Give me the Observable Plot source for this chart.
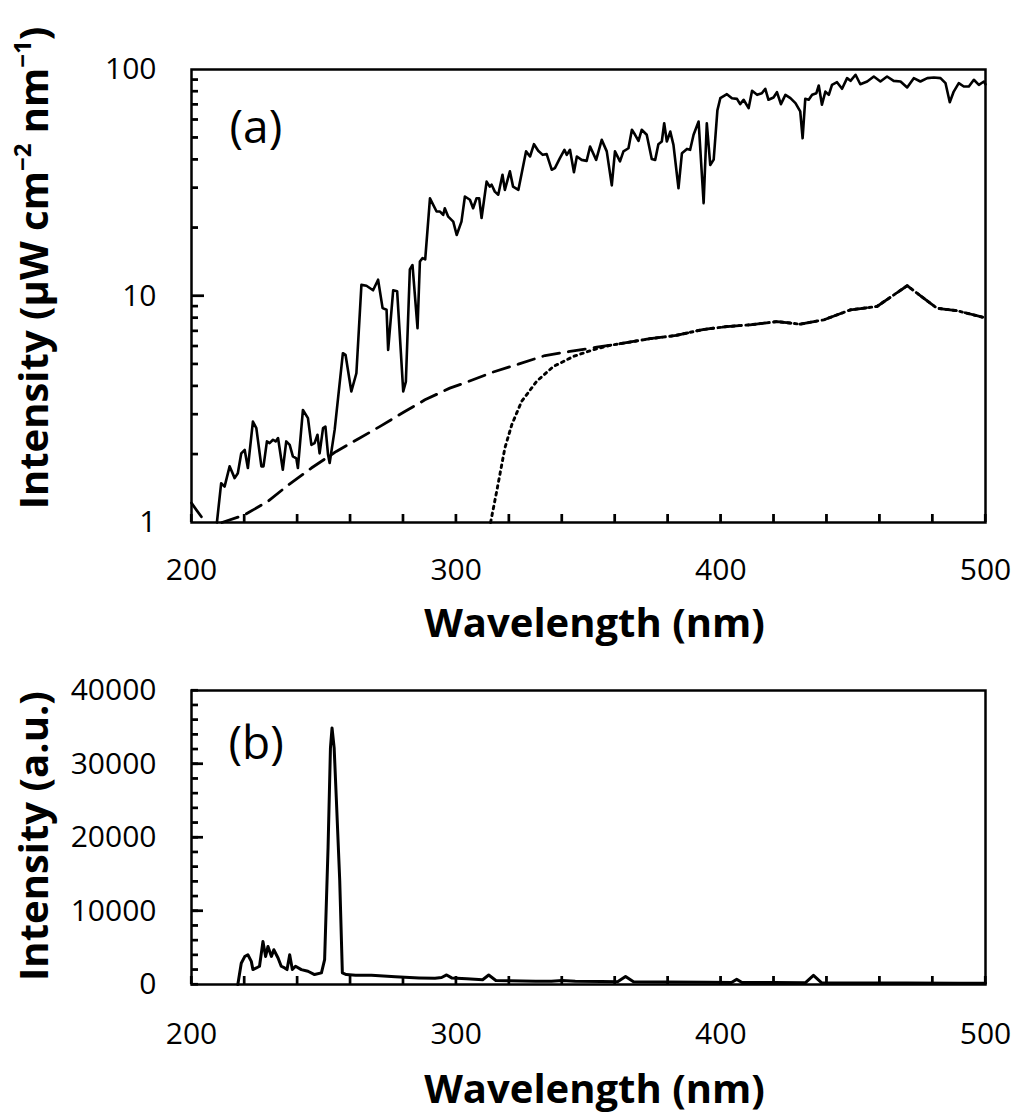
<!DOCTYPE html>
<html><head><meta charset="utf-8">
<script src="https://cdn.jsdelivr.net/npm/d3@7"></script>
<script src="https://cdn.jsdelivr.net/npm/@observablehq/plot@0.6"></script>
<style>
body{margin:0;background:#fff;font-family:"Open Sans",sans-serif;}
#wrap{position:relative;width:1017px;height:1115px;overflow:hidden;}
#top,#bot{position:absolute;left:0;}
#top{top:0}
#bot{top:660px}
#ticks{position:absolute;left:0;top:0;z-index:10;pointer-events:none;}
.ytitle{position:absolute;font-family:"Open Sans",sans-serif;font-weight:bold;font-size:40px;white-space:nowrap;transform:translate(-50%,-50%) rotate(-90deg);line-height:1;color:#000;pointer-events:none;}
.ytitle sup{font-size:0.6em;vertical-align:0.7em;line-height:0;}
</style></head>
<body><div id="wrap"><div id="top"></div><div id="bot"></div>
<div class="ytitle" style="left:33px;top:268px">Intensity (µW cm<sup>−2</sup> nm<sup>−1</sup>)</div>
<div class="ytitle" style="left:33px;top:836px">Intensity (a.u.)</div>
</div>
<script>
// ---- data (wavelength nm, value); NaN marks where the curve leaves the plotted range ----
const solarSpectrum = [[209.6,1.0],[211.2,1.49],[212.5,1.44],[214.4,1.77],[216.3,1.57],[217.5,1.65],[218.8,2.02],[220.1,2.09],[221.3,1.74],[223.2,2.79],[224.5,2.61],[226.4,1.77],[227.2,1.77],[228.5,2.28],[229.5,2.24],[230.8,2.32],[231.8,2.28],[232.7,2.36],[234.5,1.71],[235.8,2.28],[237.1,2.2],[238.3,1.96],[239.6,1.92],[240.2,1.74],[242.1,3.14],[244,2.89],[245.3,2.2],[246.5,2.24],[247.6,2.44],[248.4,2.02],[249.7,2.61],[250.6,2.65],[251.6,1.99],[252.2,1.83],[254.1,2.57],[257.2,5.59],[258.2,5.5],[260.4,3.79],[262.3,4.56],[264.2,11.2],[266.1,11.1],[268.6,10.6],[270.5,11.8],[272.2,8.84],[273.7,8.69],[274.3,5.78],[276.2,10.6],[277.7,10.5],[280,3.79],[281,4.19],[282.5,13.1],[283.5,13.7],[285.4,7.21],[286.3,14.2],[287.3,14.7],[288.3,14.5],[290.1,27],[292.6,23.6],[293.9,23.6],[295.1,22.8],[295.7,24.4],[297,22.4],[298.9,21.3],[300.2,18.6],[302,21.3],[303.3,27.5],[305.2,26.6],[306.4,24.4],[307.7,27],[308.7,27],[309.6,22.1],[311.5,32],[312.7,30.4],[313.4,31],[314.6,28.9],[315.9,28],[317.5,34.3],[318.4,29.4],[320.3,35.5],[321.5,30.4],[323.5,29.4],[326.4,43.5],[327.9,41.3],[329.4,46.8],[331,43.8],[332.7,42],[334.2,42.3],[336.1,36.1],[337.3,36.7],[339.2,40.6],[340.9,44.2],[341.8,42],[343,44.2],[344.5,35.2],[345.6,41.3],[347.4,39.9],[349.3,39.5],[350.6,45.7],[352.9,39.9],[355,48.9],[356.9,43.5],[358.8,30.8],[360,43.5],[361.9,39.3],[363.2,43.5],[365.1,44.9],[366.4,54.2],[367.6,51.5],[368.9,48.4],[370.1,54.2],[372,51.5],[373.9,40.3],[375.2,39.9],[376.4,46.8],[377.7,48.1],[378.6,57.9],[379.6,48.1],[380.9,53.2],[382.1,46.5],[384,29.9],[385.3,42.7],[387.2,44.6],[388.4,44.2],[389.7,51.5],[391.6,58.9],[393.5,25.7],[394.7,57.9],[396,37.9],[397.3,40],[398.7,66],[399.8,74.7],[402.3,77.8],[404.2,74.7],[406.1,74.2],[407.3,70.3],[408.6,73.5],[410.5,67.5],[411.8,80.5],[413.7,77.3],[415.5,78.6],[416.8,82.2],[418,73.5],[419.9,75.2],[421.2,79.4],[422.7,70.3],[424.4,77.3],[426.3,74.7],[428.2,71],[430,65.3],[430.9,49.7],[431.9,74.2],[433.2,73.5],[434.5,77.3],[436.1,78.6],[437,85],[438.2,69.9],[439.5,79.9],[440.8,77.3],[442,85.6],[443.9,87.9],[445.8,82.2],[447.7,91.6],[449,89.1],[450.9,94.8],[452.7,86.1],[455.3,88.5],[457.8,93.1],[460.3,88.5],[462.8,93.1],[465.3,89.1],[467.9,88.5],[470.4,83.3],[472.9,91.6],[475.4,88.5],[478,91.6],[480.5,92.2],[483,91.6],[484.9,87],[486.5,71.7],[488,79.9],[489.9,87],[491.8,84.1],[493.7,84.1],[495.6,90.1],[497.5,85.6],[499.4,88.5],[500,86]];

const dashedSpectrum = [[200,1.22],[202,1.13],[204,1.05],[205.6,1.0],[208,NaN],[211.5,1.0],[220,1.08],[228.9,1.24],[235.8,1.44],[245.3,1.74],[254.7,2.06],[263.6,2.36],[271.1,2.65],[280.6,3.09],[288.2,3.48],[297.6,3.92],[303.9,4.16],[313.8,4.61],[323.5,5.0],[333.6,5.46],[343,5.69],[353.1,5.94],[363.2,6.19],[373.3,6.48],[383.1,6.7],[393.2,7.11],[402.3,7.33],[411.1,7.46],[421.2,7.71],[430,7.51],[438.9,7.85],[449,8.69],[459,8.99],[470.4,11.1],[481.7,8.83],[489.3,8.61],[500,8.0]];

const dottedSpectrum = [[313,1.0],[315.3,1.37],[318.4,2.13],[321,2.7],[324.7,3.42],[330.4,4.2],[336.7,4.88],[344.3,5.41],[351.8,5.79],[358,6.05],[363.2,6.19],[373.3,6.48],[383.1,6.7],[393.2,7.11],[402.3,7.33],[411.1,7.46],[421.2,7.71],[430,7.51],[438.9,7.85],[449,8.69],[459,8.99],[470.4,11.1],[481.7,8.83],[489.3,8.61],[500,8.0]];

const lampSpectrum = [[217.5,0],[218.8,2900],[220.1,3800],[221.3,4050],[222.6,3150],[223.2,2030],[224.5,2250],[225.7,2480],[227,5850],[228,3820],[228.9,5180],[230.2,3820],[231.1,4730],[232.7,3600],[233.9,2480],[235.2,2250],[236.1,2030],[237.1,4050],[238.1,2030],[239.3,2480],[241.5,2030],[244,1800],[246.5,1350],[249.1,1580],[250.3,3380],[251.6,18680],[252.5,32200],[253.1,34900],[253.9,32200],[254.7,25440],[256,14190],[257,1580],[258.5,1350],[262,1260],[268,1250],[277,1040],[286,900],[292,850],[294.5,950],[296.4,1300],[298.3,900],[304,770],[310,650],[312.3,1300],[315,550],[320,500],[330,450],[336,450],[340,550],[345,450],[355,400],[361,380],[364,1100],[367,380],[380,330],[395,300],[404,280],[406,700],[408,280],[420,260],[432,250],[435,1250],[438,250],[450,220],[470,200],[490,180],[500,170]];

const xMinorTicks = d3.range(200, 501, 20);
const xLabelTicks = [200, 300, 400, 500];
const yLogLabels = [1, 10, 100];
const yLogMinor = [2,3,4,5,6,7,8,9,20,30,40,50,60,70,80,90];
const yLogMajor = [10];
const yLinLabels = [0, 10000, 20000, 30000, 40000];
const yLinMinor = d3.range(0, 40001, 2000);
const yLinMajor = [10000, 20000, 30000];

const toObj = arr => arr.map(([wl, v]) => ({wl, v}));
const baseStyle = {fontFamily: "Open Sans", fontSize: "30px", color: "#000", background: "#fff", overflow: "visible"};

const W = 1017, ML = 191, MR = 32;
const FW = W - ML - MR;
const topH = 660, topMT = 69, topMB = 138, topFH = topH - topMT - topMB;
const botH = 455, botMT = 30, botMB = 131, botFH = botH - botMT - botMB;
const botOffset = 660;

const topChart = Plot.plot({
  width: W, height: topH,
  marginLeft: ML, marginRight: MR, marginTop: topMT, marginBottom: topMB,
  style: baseStyle,
  x: {domain: [200, 500]},
  y: {type: "log", domain: [1, 100]},
  marks: [
    Plot.ruleX(xMinorTicks, {x: d => d, insetTop: topFH - 8, stroke: "#000", strokeWidth: 2.2}),
    Plot.ruleY(yLogMinor, {y: d => d, insetRight: FW - 7, stroke: "#000", strokeWidth: 2.2}),
    Plot.ruleY(yLogMajor, {y: d => d, insetRight: FW - 13, stroke: "#000", strokeWidth: 2.2}),
    Plot.line(toObj(dashedSpectrum), {x: "wl", y: "v", stroke: "#000", strokeWidth: 2.8, strokeDasharray: "17,9"}),
    Plot.line(toObj(dottedSpectrum), {x: "wl", y: "v", stroke: "#000", strokeWidth: 2.9, strokeDasharray: "2.6,4.4"}),
    Plot.line(toObj(solarSpectrum), {x: "wl", y: "v", stroke: "#000", strokeWidth: 2.6}),
    Plot.axisX({ticks: xLabelTicks, tickSize: 0, tickPadding: 36, tickFormat: d => String(d), label: null}),
    Plot.axisY({ticks: yLogLabels, tickSize: 0, tickPadding: 35, tickFormat: d => String(d), label: null}),
    Plot.frame({stroke: "#000", strokeWidth: 2.5}),
    Plot.text(["Wavelength (nm)"], {text: d => d, frameAnchor: "bottom", lineAnchor: "middle", dy: 102, dx: 6, fontWeight: "bold", fontSize: 40}),
    Plot.text(["(a)"], {text: d => d, frameAnchor: "top-left", lineAnchor: "middle", textAnchor: "start", dx: 38, dy: 59, fontSize: 46})
  ]
});
document.getElementById("top").append(topChart);

const botChart = Plot.plot({
  width: W, height: botH,
  marginLeft: ML, marginRight: MR, marginTop: botMT, marginBottom: botMB,
  style: baseStyle,
  x: {domain: [200, 500]},
  y: {domain: [0, 40000]},
  marks: [
    Plot.ruleX(xMinorTicks, {x: d => d, insetTop: botFH - 8, stroke: "#000", strokeWidth: 2.2}),
    Plot.ruleY(yLinMinor, {y: d => d, insetRight: FW - 7, stroke: "#000", strokeWidth: 2.2}),
    Plot.ruleY(yLinMajor, {y: d => d, insetRight: FW - 12, stroke: "#000", strokeWidth: 2.2}),
    Plot.line(toObj(lampSpectrum), {x: "wl", y: "v", stroke: "#000", strokeWidth: 3}),
    Plot.axisX({ticks: xLabelTicks, tickSize: 0, tickPadding: 38, tickFormat: d => String(d), label: null}),
    Plot.axisY({ticks: yLinLabels, tickSize: 0, tickPadding: 35, tickFormat: d => String(d), label: null}),
    Plot.frame({stroke: "#000", strokeWidth: 2.5}),
    Plot.text(["Wavelength (nm)"], {text: d => d, frameAnchor: "bottom", lineAnchor: "middle", dy: 106, dx: 6, fontWeight: "bold", fontSize: 40}),
    Plot.text(["(b)"], {text: d => d, frameAnchor: "top-left", lineAnchor: "middle", textAnchor: "start", dx: 37, dy: 54, fontSize: 46})
  ]
});
document.getElementById("bot").append(botChart);

// overlay of inward ticks, positioned with the charts' own Plot scales
try {
  const ov = d3.select("#wrap").append("svg").attr("id", "ticks").attr("width", W).attr("height", 1115);
  const g = ov.append("g").attr("stroke", "#000").attr("stroke-width", 2.2);
  const drawTicks = (chart, y0, H, MB, yMinor, yMajor, majLen) => {
    const sx = chart.scale("x"), sy = chart.scale("y");
    const yb = y0 + H - MB;
    xMinorTicks.forEach(v => { const p = sx.apply(v); g.append("line").attr("x1", p).attr("x2", p).attr("y1", yb).attr("y2", yb - 8); });
    yMinor.forEach(v => { const p = y0 + sy.apply(v); g.append("line").attr("x1", ML).attr("x2", ML + 7).attr("y1", p).attr("y2", p); });
    yMajor.forEach(v => { const p = y0 + sy.apply(v); g.append("line").attr("x1", ML).attr("x2", ML + majLen).attr("y1", p).attr("y2", p); });
  };
  drawTicks(topChart, 0, topH, topMB, yLogMinor, yLogMajor, 13);
  drawTicks(botChart, botOffset, botH, botMB, yLinMinor, yLinMajor, 12);
} catch (e) {}
</script>
</body></html>
